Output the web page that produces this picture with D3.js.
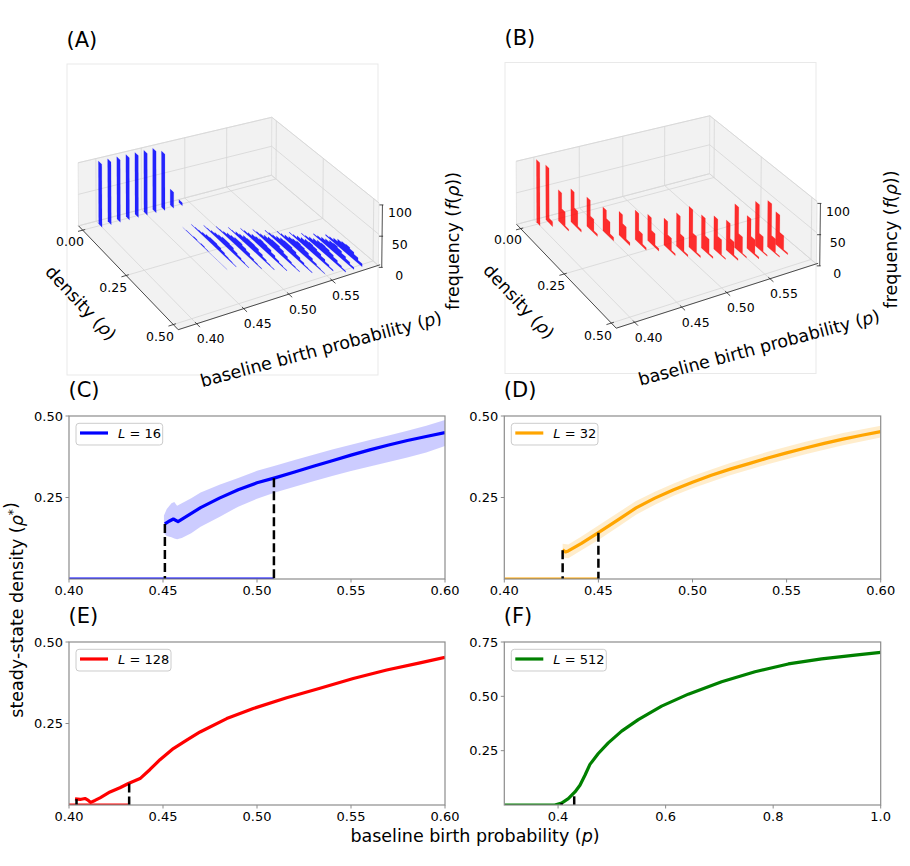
<!DOCTYPE html>
<html><head><meta charset="utf-8">
<script src="https://cdn.jsdelivr.net/npm/d3@7/dist/d3.min.js"></script>
<style>
body{margin:0;background:#fff;}
svg text{font-family:"DejaVu Sans","Liberation Sans",sans-serif;fill:#000;}
</style></head><body>
<svg id="fig" width="910" height="866" xmlns="http://www.w3.org/2000/svg"></svg>
<script>
// ================= DATA =================
// --- 3D histograms (A: L=16, B: L=128) ---
const pGrid = [0.40,0.41,0.42,0.43,0.44,0.45,0.46,0.47,0.48,0.49,0.50,0.51,0.52,0.53,0.54,0.55,0.56,0.57,0.58,0.59];
const binW = 0.02;
const pLim3 = [0.381, 0.606];
const rhoLim3 = [-0.025, 0.525];
const fLim3 = [0, 100];
const pTicks3 = [0.40, 0.45, 0.50, 0.55];
const rhoTicks3 = [0.00, 0.25, 0.50];
const fTicks3 = [0, 50, 100];

const zeroFreqA = [100,100,100,100,100,100,100,92,26,5,0,0,0,0,0,0,0,0,0,0];
const spreadStartA = [0,0,0,0,0,0,0,0.12,0.12,0.14,0.16,0.18,0.20,0.22,0.24,0.26,0.28,0.30,0.32,0.34];
const spreadFreqA = [
  [],[],[],[],[],[],[],
  [0,1,1,2,1,2,1,0,0,0,0,0],
  [1,2,3,5,7,8,8,7,5,3,2,1],
  [1,2,4,6,8,10,10,9,6,4,2,1],
  [1,2,4,7,9,11,11,9,7,4,2,1],
  [1,2,5,7,10,11,11,10,7,4,2,1],
  [1,3,5,8,10,12,11,10,7,4,2,1],
  [1,3,5,8,11,12,12,10,7,4,2,1],
  [1,3,5,8,11,12,12,10,7,4,2,1],
  [1,3,6,9,11,13,12,10,7,4,2,1],
  [1,3,6,9,12,13,12,10,7,4,2],
  [1,3,6,9,12,13,12,10,7,4,2],
  [2,4,7,10,13,14,12,9,6,3],
  [2,4,7,11,13,14,12,9,5]
];
const startB = [0,0,0.02,0.04,0.08,0.12,0.16,0.20,0.22,0.26,0.28,0.30,0.32,0.34,0.36,0.36,0.38,0.38,0.40,0.40];
const freqB = [
  [100],[88,8],[50,25,3],[53,28,4],[47,22,4],[38,25,6],[38,24,5],[47,20,4],[42,22,4],[43,22,3],
  [53,25,3],[65,28,3],[53,25,3],[53,26,2],[48,24,3],[70,28,2],[53,25,3],[72,26,2],[75,24,2],[53,25,3]
];

// --- (C) L = 16 ---
const cMeanX = [0.451,0.4535,0.4555,0.458,0.4625,0.47,0.48,0.49,0.50,0.51,0.52,0.53,0.54,0.55,0.56,0.57,0.58,0.59,0.60];
const cMeanY = [0.169,0.178,0.184,0.176,0.192,0.219,0.248,0.274,0.295,0.311,0.328,0.346,0.363,0.380,0.396,0.411,0.425,0.437,0.449];
const cBandX = [0.4505,0.452,0.4545,0.456,0.4575,0.46,0.465,0.47,0.48,0.49,0.50,0.51,0.52,0.53,0.54,0.55,0.56,0.57,0.58,0.59,0.60];
const cBandUp = [0.195,0.215,0.232,0.236,0.225,0.232,0.248,0.265,0.289,0.310,0.332,0.348,0.365,0.381,0.397,0.412,0.426,0.440,0.455,0.470,0.488];
const cBandLo = [0.140,0.132,0.128,0.124,0.122,0.126,0.140,0.160,0.190,0.222,0.246,0.266,0.283,0.300,0.316,0.331,0.345,0.359,0.373,0.388,0.408];
const cZeroX = [0.40, 0.509];
const cDashX = [0.451, 0.509];
const cDashY = [0.169, 0.309];

// --- (D) L = 32 ---
const dMeanX = [0.431,0.4325,0.434,0.441,0.45,0.46,0.47,0.48,0.49,0.50,0.51,0.52,0.53,0.54,0.55,0.56,0.57,0.58,0.59,0.60];
const dMeanY = [0.090,0.083,0.086,0.109,0.142,0.180,0.218,0.248,0.274,0.297,0.318,0.337,0.354,0.371,0.387,0.402,0.416,0.429,0.441,0.452];
const dBandX = [0.431,0.434,0.441,0.45,0.46,0.47,0.48,0.49,0.50,0.52,0.54,0.56,0.58,0.60];
const dBandUp = [0.108,0.106,0.130,0.164,0.202,0.239,0.268,0.293,0.316,0.356,0.390,0.421,0.448,0.470];
const dBandLo = [0.066,0.064,0.088,0.120,0.158,0.197,0.228,0.255,0.278,0.318,0.352,0.383,0.410,0.434];
const dZeroX = [0.40, 0.45];
const dDashX = [0.431, 0.450];
const dDashY = [0.088, 0.142];

// --- (E) L = 128 ---
const eMeanX = [0.4032,0.4059,0.4085,0.4103,0.4115,0.4138,0.4165,0.4218,0.4271,0.4316,0.4378,0.4431,0.4484,0.4555,0.4626,0.4697,0.4839,0.4980,0.5158,0.5335,0.5512,0.5690,0.5867,0.60];
const eMeanY = [0.019,0.017,0.020,0.014,0.008,0.014,0.022,0.040,0.053,0.066,0.081,0.109,0.139,0.173,0.199,0.224,0.265,0.296,0.329,0.358,0.388,0.414,0.436,0.453];
const eZeroX = [0.40, 0.432];
const eDashX = [0.404, 0.432];
const eDashY = [0.018, 0.066];

// --- (F) L = 512 ---
const fMeanX = [0.30,0.394,0.4066,0.419,0.4314,0.4407,0.450,0.4593,0.4748,0.4934,0.5182,0.5492,0.5926,0.6422,0.7042,0.7662,0.8282,0.8903,0.9523,1.0];
const fMeanY = [0,0,0.009,0.029,0.060,0.091,0.137,0.187,0.237,0.286,0.340,0.393,0.455,0.510,0.567,0.613,0.649,0.672,0.690,0.702];
const fDashX = [0.4066, 0.430];
const fDashY = [0.009, 0.040];

const tick2D_p = [0.40,0.45,0.50,0.55,0.60];
const tick2D_rho = [0.25,0.50];
const tickF_p = [0.4,0.6,0.8,1.0];
const tickF_rho = [0.25,0.50,0.75];

// ================= DRAWING =================
const svg = d3.select('#fig');
const LABEL_FS = 17.5;

// ---- camera fit (perspective projection from box corners) ----
function fitCamera(corr){
  const cx = d3.mean(corr,d=>d[3]), cy = d3.mean(corr,d=>d[4]), s = 100;
  const A=[], b=[];
  corr.forEach(([X,Y,Z,u0,v0])=>{
    const u=(u0-cx)/s, v=(v0-cy)/s;
    A.push([X,Y,Z,1,0,0,0,0,-u*X,-u*Y,-u*Z]); b.push(u);
    A.push([0,0,0,0,X,Y,Z,1,-v*X,-v*Y,-v*Z]); b.push(v);
  });
  const n=11;
  const M=[...Array(n)].map(()=>Array(n+1).fill(0));
  for(let i=0;i<n;i++){
    for(let j=0;j<n;j++){let sm=0;for(let r=0;r<A.length;r++)sm+=A[r][i]*A[r][j];M[i][j]=sm;}
    let sb=0;for(let r=0;r<A.length;r++)sb+=A[r][i]*b[r];M[i][n]=sb;
  }
  for(let c=0;c<n;c++){
    let piv=c;for(let r=c+1;r<n;r++)if(Math.abs(M[r][c])>Math.abs(M[piv][c]))piv=r;
    const t=M[c];M[c]=M[piv];M[piv]=t;
    for(let r=0;r<n;r++){if(r===c)continue;const f=M[r][c]/M[c][c];for(let k=c;k<=n;k++)M[r][k]-=f*M[c][k];}
  }
  const P=M.map((row,i)=>row[n]/row[i]);
  return (X,Y,Z)=>{const w=P[8]*X+P[9]*Y+P[10]*Z+1;
    return [cx+s*(P[0]*X+P[1]*Y+P[2]*Z+P[3])/w, cy+s*(P[4]*X+P[5]*Y+P[6]*Z+P[7])/w];};
}
const boxCorners=[[0,0,0,78.3,225],[0,0,1,78.3,163.3],[1,0,0,271.7,176],[1,0,1,271.7,116.7],
                  [1,1,0,378.3,265],[1,1,1,379,203],[0,1,0,178.3,330]];
const cam = fitCamera(boxCorners);

function mathText(sel, parts){
  parts.forEach(([t,it,sup])=>{
    const ts=sel.append('tspan').text(t);
    if(it) ts.attr('font-style','italic');
    if(sup) ts.attr('font-size','0.7em').attr('dy','-0.5em');
  });
}

function panel3D(dx, dy, letter, color, opacity, rows){
  const g = svg.append('g').attr('transform',`translate(${dx},${dy})`);
  const xs=d3.scaleLinear().domain(pLim3).range([0,1]);
  const ys=d3.scaleLinear().domain(rhoLim3).range([0,1]);
  const zs=d3.scaleLinear().domain(fLim3).range([0,1]);
  const line=d3.line();
  const seg=(a,b)=>line([cam(...a),cam(...b)]);
  g.append('rect').attr('x',67).attr('y',64).attr('width',311).attr('height',311)
    .attr('fill','none').attr('stroke','#e9e9e9').attr('stroke-width',1);
  g.append('text').attr('x',66.5).attr('y',46.5).attr('font-size',21).text(letter);
  const panes=[[[0,0,0],[1,0,0],[1,1,0],[0,1,0]],[[0,0,0],[1,0,0],[1,0,1],[0,0,1]],[[1,0,0],[1,1,0],[1,1,1],[1,0,1]]];
  panes.forEach(pn=>g.append('path').attr('d',line(pn.map(q=>cam(...q)))+'Z')
     .attr('fill','#f2f2f2').attr('stroke','#e0e0e0').attr('stroke-width',0.8));
  const gs='#d6d6d6';
  const grid=g.append('g').attr('stroke',gs).attr('stroke-width',0.8).attr('fill','none');
  pTicks3.forEach(p=>{const X=xs(p);
    grid.append('path').attr('d',seg([X,0,0],[X,1,0]));
    grid.append('path').attr('d',seg([X,0,0],[X,0,1]));});
  rhoTicks3.forEach(r=>{const Y=ys(r);
    grid.append('path').attr('d',seg([0,Y,0],[1,Y,0]));
    grid.append('path').attr('d',seg([1,Y,0],[1,Y,1]));});
  fTicks3.forEach(f=>{const Z=zs(f);
    grid.append('path').attr('d',seg([0,0,Z],[1,0,Z]));
    grid.append('path').attr('d',seg([1,0,Z],[1,1,Z]));});
  // axes lines
  const ax=g.append('g').attr('stroke','#222').attr('stroke-width',0.8).attr('fill','none');
  ax.append('path').attr('d',seg([0,0,0],[0,1,0]));
  ax.append('path').attr('d',seg([0,1,0],[1.01,1,0]));
  const zoff=[3.4,2];
  const zA=cam(1,1,0), zB=cam(1,1,1);
  ax.append('path').attr('d',line([[zA[0]+zoff[0],zA[1]+zoff[1]],[zB[0]+zoff[0],zB[1]+zoff[1]]]));
  const lab=g.append('g').attr('font-size',12.5).attr('text-anchor','middle');
  rhoTicks3.forEach(r=>{const Y=ys(r);
    ax.append('path').attr('d',seg([0.012,Y,0],[-0.022,Y,0]));
    const q=cam(-0.06,Y,0);
    lab.append('text').attr('x',q[0]).attr('y',q[1]+8).attr('dy','0.35em').text(d3.format('.2f')(r));});
  pTicks3.forEach(p=>{const X=xs(p);
    ax.append('path').attr('d',seg([X,0.985,0],[X,1.03,0]));
    const q=cam(X,1,0);
    lab.append('text').attr('x',q[0]+14).attr('y',q[1]+15).attr('dy','0.35em').text(d3.format('.2f')(p));});
  fTicks3.forEach(f=>{const q=cam(1,1,zs(f));
    ax.append('path').attr('d',line([[q[0]+zoff[0]-3,q[1]+zoff[1]],[q[0]+zoff[0]+1,q[1]+zoff[1]]]));
    lab.append('text').attr('x',q[0]+21).attr('y',q[1]+10).attr('dy','0.35em').text(f);});
  // axis labels
  const t1=g.append('text').attr('font-size',LABEL_FS).attr('text-anchor','middle').attr('dy','0.35em')
    .attr('transform','translate(81,303) rotate(47)');
  mathText(t1,[['density ('],['ρ',1],[')']]);
  const t2=g.append('text').attr('font-size',LABEL_FS).attr('text-anchor','middle').attr('dy','0.35em')
    .attr('transform','translate(321,349) rotate(-15)');
  mathText(t2,[['baseline birth probability ('],['p',1],[')']]);
  const t3=g.append('text').attr('font-size',LABEL_FS).attr('text-anchor','middle')
    .attr('transform','translate(458.5,241) rotate(-90)');
  mathText(t3,[['frequency ('],['f',1],['('],['ρ',1],['))']]);
  // bars (far planes first); bins centred on their value
  const bars=g.append('g');
  rows.slice().sort((a,b)=>b.p-a.p).forEach(row=>{
    row.sets.forEach(([start,fr])=>{
      if(!fr.length || d3.max(fr)===0) return;
      const X=xs(row.p);
      const s0=start-binW/2;
      const pts=[];
      const n=fr.length;
      pts.push([X,ys(s0),0]); pts.push([X,ys(s0+n*binW),0]);
      for(let k=n-1;k>=0;k--){
        pts.push([X,ys(s0+(k+1)*binW),zs(fr[k])]);
        pts.push([X,ys(s0+k*binW),zs(fr[k])]);
      }
      bars.append('path').attr('d',line(pts.map(q=>cam(...q)))+'Z')
        .attr('fill',color).attr('fill-opacity',opacity).attr('stroke',color).attr('stroke-opacity',0.25).attr('stroke-width',0.5);
    });
  });
}

const rowsA = pGrid.map((p,i)=>({p, sets:[[0,[zeroFreqA[i]]],[spreadStartA[i],spreadFreqA[i]]]}));
const rowsB = pGrid.map((p,i)=>({p, sets:[[startB[i],freqB[i]]]}));
panel3D(0,0,'(A)','#0000ff',0.85,rowsA);
panel3D(438,-1.5,'(B)','#ff0000',0.82,rowsB);

// ---- 2D panels ----
function panel2D(o){
  const g=svg.append('g');
  const x=d3.scaleLinear().domain(o.xDom).range([o.x0,o.x0+o.w]);
  const y=d3.scaleLinear().domain(o.yDom).range([o.y0+o.h,o.y0]);
  const cid='clip'+o.letter.replace(/\W/g,'');
  svg.append('defs').append('clipPath').attr('id',cid).append('rect')
    .attr('x',o.x0).attr('y',o.y0).attr('width',o.w).attr('height',o.h);
  g.append('text').attr('x',o.x0-0.5).attr('y',o.y0-19).attr('font-size',21).text(o.letter);
  const plot=g.append('g').attr('clip-path',`url(#${cid})`);
  const ln=d3.line().x(d=>x(d[0])).y(d=>y(d[1]));
  if(o.band){
    const ar=d3.area().x(d=>x(d[0])).y0(d=>y(d[2])).y1(d=>y(d[1]));
    plot.append('path').attr('d',ar(o.band[0].map((v,i)=>[v,o.band[1][i],o.band[2][i]])))
      .attr('fill',o.color).attr('fill-opacity',0.2);
  }
  if(o.zero){
    plot.append('path').attr('d',ln([[o.zero[0],0],[o.zero[1],0]])).attr('stroke',o.color)
      .attr('stroke-width',3).attr('fill','none');
  }
  plot.append('path').attr('d',ln(o.mx.map((v,i)=>[v,o.my[i]]))).attr('stroke',o.color)
    .attr('stroke-width',3.2).attr('fill','none').attr('stroke-linejoin','round');
  o.dx.forEach((v,i)=>{
    plot.append('path').attr('d',ln([[v,o.dy[i]],[v,0]])).attr('stroke','#000')
      .attr('stroke-width',2.5).attr('stroke-dasharray','9,4').attr('fill','none');
  });
  // spines
  g.append('rect').attr('x',o.x0).attr('y',o.y0).attr('width',o.w).attr('height',o.h)
    .attr('fill','none').attr('stroke','#8c8c8c').attr('stroke-width',1.2);
  const tk=g.append('g').attr('font-size',13);
  o.xTicks.forEach(t=>{
    tk.append('line').attr('x1',x(t)).attr('x2',x(t)).attr('y1',o.y0+o.h).attr('y2',o.y0+o.h+3.5).attr('stroke','#8c8c8c');
    tk.append('text').attr('x',x(t)).attr('y',o.y0+o.h+16).attr('text-anchor','middle').text(d3.format(o.xFmt)(t));
  });
  o.yTicks.forEach(t=>{
    tk.append('line').attr('x1',o.x0-3.5).attr('x2',o.x0).attr('y1',y(t)).attr('y2',y(t)).attr('stroke','#8c8c8c');
    tk.append('text').attr('x',o.x0-6).attr('y',y(t)).attr('dy','0.35em').attr('text-anchor','end').text(d3.format('.2f')(t));
  });
  // legend
  const lg=g.append('g').attr('transform',`translate(${o.x0+7},${o.y0+7.3})`);
  lg.append('rect').attr('width',o.legW).attr('height',21.7).attr('rx',3).attr('fill','#fff')
    .attr('fill-opacity',0.8).attr('stroke','#cccccc');
  lg.append('line').attr('x1',4).attr('x2',32).attr('y1',9.7).attr('y2',9.7).attr('stroke',o.color).attr('stroke-width',3.2);
  const lt=lg.append('text').attr('x',42).attr('y',14.7).attr('font-size',13);
  mathText(lt,[['L',1],[' = '+o.L]]);
}

panel2D({letter:'(C)',x0:69,y0:416,w:376,h:163,xDom:[0.40,0.60],yDom:[0,0.5],xTicks:tick2D_p,yTicks:tick2D_rho,xFmt:'.2f',
  color:'#0000ff',band:[cBandX,cBandUp,cBandLo],zero:cZeroX,mx:cMeanX,my:cMeanY,dx:cDashX,dy:cDashY,legW:86.7,L:16});
panel2D({letter:'(D)',x0:504.3,y0:416,w:376.4,h:163,xDom:[0.40,0.60],yDom:[0,0.5],xTicks:tick2D_p,yTicks:tick2D_rho,xFmt:'.2f',
  color:'#ffa500',band:[dBandX,dBandUp,dBandLo],zero:dZeroX,mx:dMeanX,my:dMeanY,dx:dDashX,dy:dDashY,legW:86.7,L:32});
panel2D({letter:'(E)',x0:69,y0:642,w:376,h:163,xDom:[0.40,0.60],yDom:[0,0.5],xTicks:tick2D_p,yTicks:tick2D_rho,xFmt:'.2f',
  color:'#ff0000',zero:eZeroX,mx:eMeanX,my:eMeanY,dx:eDashX,dy:eDashY,legW:95,L:128});
panel2D({letter:'(F)',x0:504.3,y0:642,w:376.4,h:163,xDom:[0.30,1.0],yDom:[0,0.75],xTicks:tickF_p,yTicks:tickF_rho,xFmt:'.1f',
  color:'#008000',mx:fMeanX,my:fMeanY,dx:fDashX,dy:fDashY,legW:95,L:512});

// global labels
const yl=svg.append('text').attr('font-size',LABEL_FS).attr('text-anchor','middle').attr('transform','translate(23,610) rotate(-90)');
mathText(yl,[['steady-state density ('],['ρ',1],['*',0,1],[')']]);
const xl=svg.append('text').attr('font-size',LABEL_FS).attr('text-anchor','middle').attr('x',475).attr('y',842);
mathText(xl,[['baseline birth probability ('],['p',1],[')']]);
</script></body></html>
